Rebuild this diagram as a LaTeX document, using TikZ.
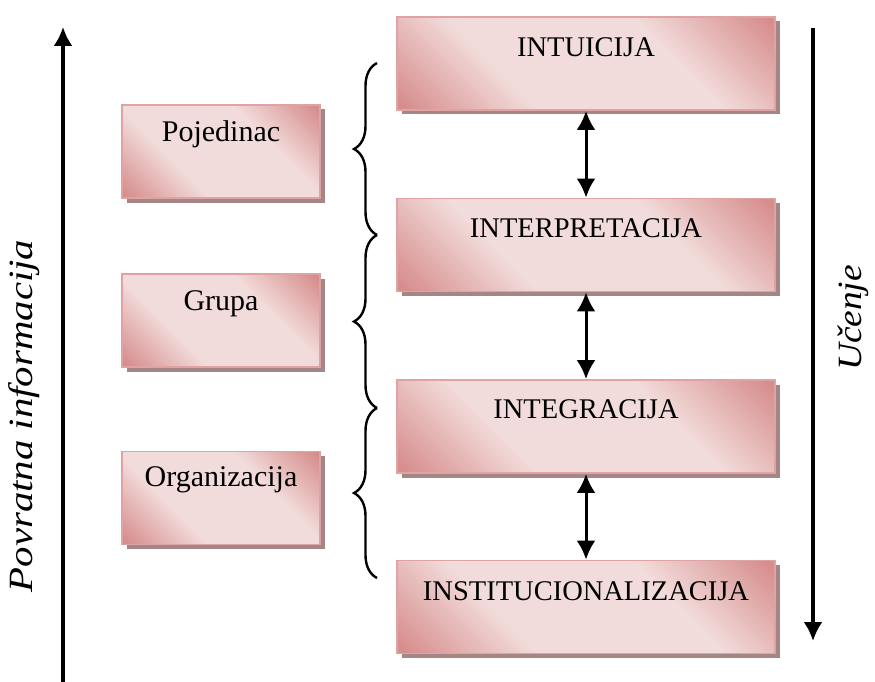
\documentclass[tikz,border=0pt]{standalone}
\usepackage{fontspec}
\setmainfont{Liberation Serif}
\usetikzlibrary{arrows.meta,calc,decorations.pathreplacing,shadows}
\definecolor{pkdark}{HTML}{D68E8D}
\definecolor{pklight}{HTML}{F2DCDB}
\definecolor{pkborder}{HTML}{DEA3A2}
\definecolor{pkshadow}{HTML}{A58686}
\pgfdeclarehorizontalshading{wordpink}{100bp}{color(0bp)=(pkdark); color(16bp)=(pkdark); color(36bp)=(pklight); color(64bp)=(pklight); color(84bp)=(pkdark); color(100bp)=(pkdark)}
\tikzset{
  pinkbox/.style={draw=pkborder, line width=1.8pt, shading=wordpink, shading angle=45,
    drop shadow={shadow xshift=4.5pt, shadow yshift=-4.5pt, fill=pkshadow, opacity=1},
    inner sep=0pt, minimum height=93pt},
  rbox/.style={pinkbox, minimum width=378pt},
  lbox/.style={pinkbox, minimum width=198pt},
  rtext/.style={anchor=base, inner sep=0pt, font=\fontsize{28.5pt}{31pt}\selectfont},
  ltext/.style={anchor=base, inner sep=0pt, font=\fontsize{30pt}{33pt}\selectfont},
  dbl/.style={line width=3pt, {Latex[length=19pt,width=19pt]}-{Latex[length=19pt,width=19pt]}},
  bigarrow/.style={line width=3.2pt, -{Latex[length=19pt,width=19pt]}},
  vlabel/.style={rotate=90, inner sep=0pt, font=\fontsize{34pt}{38pt}\selectfont\itshape},
  bracestyle/.style={line width=2.4pt, decorate, decoration={brace, amplitude=23pt, aspect=0.5}}
}
\begin{document}
\begin{tikzpicture}[x=1pt, y=-1pt]
\useasboundingbox (0,0) rectangle (875,682);
% left feedback arrow
\coordinate (fbA) at (63,682);
\coordinate (fbB) at (63,27);
\draw[bigarrow] (fbA) -- (fbB);
\node[vlabel] (lfb) at (24,416) {\scalebox{1.2}[1]{Povratna informacija}};
% right learning arrow
\coordinate (ucA) at (813,28);
\coordinate (ucB) at (813,641);
\draw[bigarrow] (ucA) -- (ucB);
\node[vlabel] (luc) at (853,318) {\scalebox{1.1}[1]{Učenje}};
% right boxes
\node[rbox] (b1) at (586,63.5) {};
\node[rbox] (b2) at (586,245) {};
\node[rbox] (b3) at (586,426.5) {};
\node[rbox] (b4) at (586,607) {};
\node[rtext] (t1) at ($(b1.north)+(0,40)$) {INTUICIJA};
\node[rtext] (t2) at ($(b2.north)+(0,40)$) {INTERPRETACIJA};
\node[rtext] (t3) at ($(b3.north)+(0,39)$) {INTEGRACIJA};
\node[rtext] (t4) at ($(b4.north)+(0,41)$) {INSTITUCIONALIZACIJA};
% left boxes
\node[lbox] (l1) at (221,151.5) {};
\node[lbox] (l2) at (221,320.5) {};
\node[lbox] (l3) at (221,498) {};
\node[ltext] (s1) at ($(l1.north)+(0,37)$) {Pojedinac};
\node[ltext] (s2) at ($(l2.north)+(0,37)$) {Grupa};
\node[ltext] (s3) at ($(l3.north)+(0,36)$) {Organizacija};
% double arrows
\draw[dbl] (b1.south) -- (b2.north);
\draw[dbl] (b2.south) -- (b3.north);
\draw[dbl] (b3.south) -- (b4.north);
% braces
\coordinate (br0) at (377,63);
\coordinate (br1) at (377,235);
\coordinate (br2) at (377,408);
\coordinate (br3) at (377,578);
\draw[bracestyle] (br1) -- (br0);
\draw[bracestyle] (br2) -- (br1);
\draw[bracestyle] (br3) -- (br2);
\end{tikzpicture}
\end{document}
